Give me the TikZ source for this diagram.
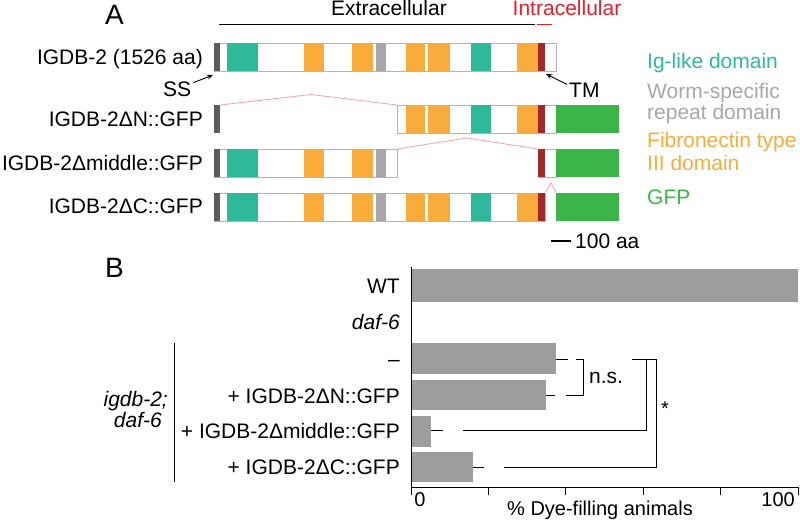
\documentclass[tikz,border=0pt]{standalone}
\usepackage{fontspec}
\setmainfont{Liberation Sans}
\usetikzlibrary{arrows.meta}
\definecolor{igteal}{HTML}{2EB99B}
\definecolor{fnorange}{HTML}{F9AC3C}
\definecolor{wsgray}{HTML}{A7A7A9}
\definecolor{ssgray}{HTML}{5C5C5E}
\definecolor{tmred}{HTML}{A1282A}
\definecolor{gfpgreen}{HTML}{3BB54A}
\definecolor{delpink}{HTML}{F2A3A3}
\definecolor{boxgray}{HTML}{B4B4B6}
\definecolor{barfill}{HTML}{9D9D9F}
\definecolor{intrared}{HTML}{E5202A}
\newcommand\myfs{\fontsize{21}{25}\selectfont}
\newcommand\myax{\fontsize{20}{24}\selectfont}
\newcommand\mybig{\fontsize{28}{32}\selectfont}
\begin{document}
\begin{tikzpicture}[x=1pt,y=-1pt,
  lbl/.style={font=\myfs, inner sep=0pt, anchor=base east},
  lblw/.style={font=\myfs, inner sep=0pt, anchor=base west},
  panel/.style={font=\mybig, inner sep=0pt, anchor=base west},
  outl/.style={draw=boxgray, line width=0.9pt},
  del/.style={draw=delpink, line width=0.8pt},
  blk/.style={draw=black, line width=1pt},
  arr/.style={draw=black, line width=0.9pt, -{Stealth[length=6pt,width=5pt]}},
  bar/.style={fill=barfill, draw=none},
  pics/fulldom/.style={code={
    \fill[ssgray] (214,0) rectangle (220,28);
    \fill[igteal] (227,0) rectangle (258,28);
    \fill[fnorange] (304,0) rectangle (324,28);
    \fill[fnorange] (352,0) rectangle (373,28);
    \fill[wsgray] (376,0) rectangle (386,28);
    \fill[fnorange] (406,0) rectangle (425,28);
    \fill[fnorange] (428,0) rectangle (450,28);
    \fill[igteal] (471,0) rectangle (491,28);
    \fill[fnorange] (517,0) rectangle (538,28);
    \fill[tmred] (538,0) rectangle (545,28);
  }}
]
\useasboundingbox (0,0) rectangle (800,521);
\fill[white] (0,0) rectangle (800,521);

% ---------- Panel A ----------
\node[panel] (pA) at (105,25) {A};
\node[lblw, anchor=base] (extra) at (389,15.5) {Extracellular};
\node[lblw, anchor=base, text=intrared] (intra) at (567,15.5) {Intracellular};
\draw[blk] (219,25) -- (535,25);
\draw[draw=intrared, line width=1pt] (537,25) -- (552,25);

% row 1: full length
\draw[outl] (214,43) rectangle (556,71);
\pic at (0,43) {fulldom};
\node[lbl] (r1) at (203,64.5) {IGDB-2 (1526 aa)};

% row 2: delta N
\fill[ssgray] (214,105) rectangle (220,133);
\draw[outl] (397,105) rectangle (556,133);
\begin{scope}
  \clip (390,100) rectangle (560,140);
  \pic at (0,105) {fulldom};
\end{scope}
\fill[gfpgreen] (556,105) rectangle (619,133);
\draw[del] (220,105) -- (311,94.5) -- (397,105);
\node[lbl] (r2) at (203,126.5) {IGDB-2ΔN::GFP};

% row 3: delta middle
\draw[outl] (214,149) rectangle (397,177);
\begin{scope}
  \clip (200,140) rectangle (397,180);
  \pic at (0,149) {fulldom};
\end{scope}
\draw[outl] (538,149) rectangle (556,177);
\fill[tmred] (538,149) rectangle (545,177);
\fill[gfpgreen] (556,149) rectangle (619,177);
\draw[del] (397,149) -- (467,138) -- (538,149);
\node[lbl] (r3) at (203,170.5) {IGDB-2Δmiddle::GFP};

% row 4: delta C
\draw[outl] (214,193) rectangle (545,221);
\pic at (0,193) {fulldom};
\fill[gfpgreen] (556,193) rectangle (619,221);
\draw[del] (545.5,192) -- (551,183) -- (556,192);
\node[lbl] (r4) at (203,213.5) {IGDB-2ΔC::GFP};

% SS and TM pointers
\node[lblw] (ss) at (163,96.5) {SS};
\coordinate (ssTip) at (213,75);
\draw[arr] ([xshift=2pt,yshift=-1pt]ss.north east) -- (ssTip);
\node[lblw] (tm) at (569,98) {TM};
\coordinate (tmTip) at (546,74);
\draw[arr] ([xshift=-2pt,yshift=-1pt]tm.north west) -- (tmTip);

% scale bar
\coordinate (sb1) at (551,241);
\coordinate (sb2) at (571,241);
\draw[draw=black, line width=2.5pt] (sb1) -- (sb2);
\node[lblw, anchor=west] (sbl) at (575,241) {100 aa};

% legend
\node[lblw, text=igteal] (lg1) at (647,68.5) {Ig-like domain};
\node[lblw, text=wsgray] (lg2) at (647,99) {Worm-specific};
\node[lblw, text=wsgray] (lg2b) at (647,120) {repeat domain};
\node[lblw, text=fnorange] (lg3) at (647,148) {Fibronectin type};
\node[lblw, text=fnorange] (lg3b) at (647,171) {III domain};
\node[lblw, text=gfpgreen] (lg4) at (647,204.5) {GFP};

% ---------- Panel B ----------
\node[panel] (pB) at (105,277) {B};

% bars
\fill[bar] (411,269) rectangle (798,302);
\fill[bar] (411,343) rectangle (556,374);
\fill[bar] (411,380) rectangle (546,410);
\fill[bar] (411,416) rectangle (431,447);
\fill[bar] (411,452) rectangle (473,482);

% error bars
\draw[blk] (556,359) -- (568,359);
\draw[blk] (546,395) -- (555,395);
\draw[blk] (431,430) -- (443,430);
\draw[blk] (473,467) -- (484,467);

% axes
\draw[blk] (411,267) -- (411,487) -- (798,487);
\foreach \t in {411,488.4,565.8,643.2,720.6,798}
  \draw[blk] (\t,487) -- (\t,495);
\node[font=\myax, inner sep=0pt, anchor=base] (t0) at (420,506) {0};
\node[font=\myax, inner sep=0pt, anchor=base east] (t100) at (795,506) {100};
\node[font=\myax, inner sep=0pt, anchor=base] (xl) at (600,515) {\% Dye-filling animals};

% row labels
\node[lbl] (bwt) at (400,293.5) {WT};
\node[lbl] (bdaf) at (400,329) {\itshape daf-6};
\node[lbl] (bneg) at (400,366) {–};
\node[lbl] (bdn) at (400,403) {+ IGDB-2ΔN::GFP};
\node[lbl] (bdm) at (400,438) {+ IGDB-2Δmiddle::GFP};
\node[lbl] (bdc) at (400,474) {+ IGDB-2ΔC::GFP};
\draw[blk] (174,343) -- (174,482);
\node[lbl] (g1) at (168,406.5) {\itshape igdb-2;};
\node[lbl] (g2) at (162,427) {\itshape daf-6};

% significance brackets
\draw[blk] (576,359) -- (583,359) -- (583,395) -- (566,395);
\node[lblw] (ns) at (589,383) {n.s.};
\draw[blk] (632,359) -- (656,359);
\draw[blk] (646,359) -- (646,430) -- (463,430);
\draw[blk] (656,359) -- (656,467) -- (504,467);
\node[font=\myax, inner sep=0pt] (star) at (665,409) {*};
\end{tikzpicture}
\end{document}
